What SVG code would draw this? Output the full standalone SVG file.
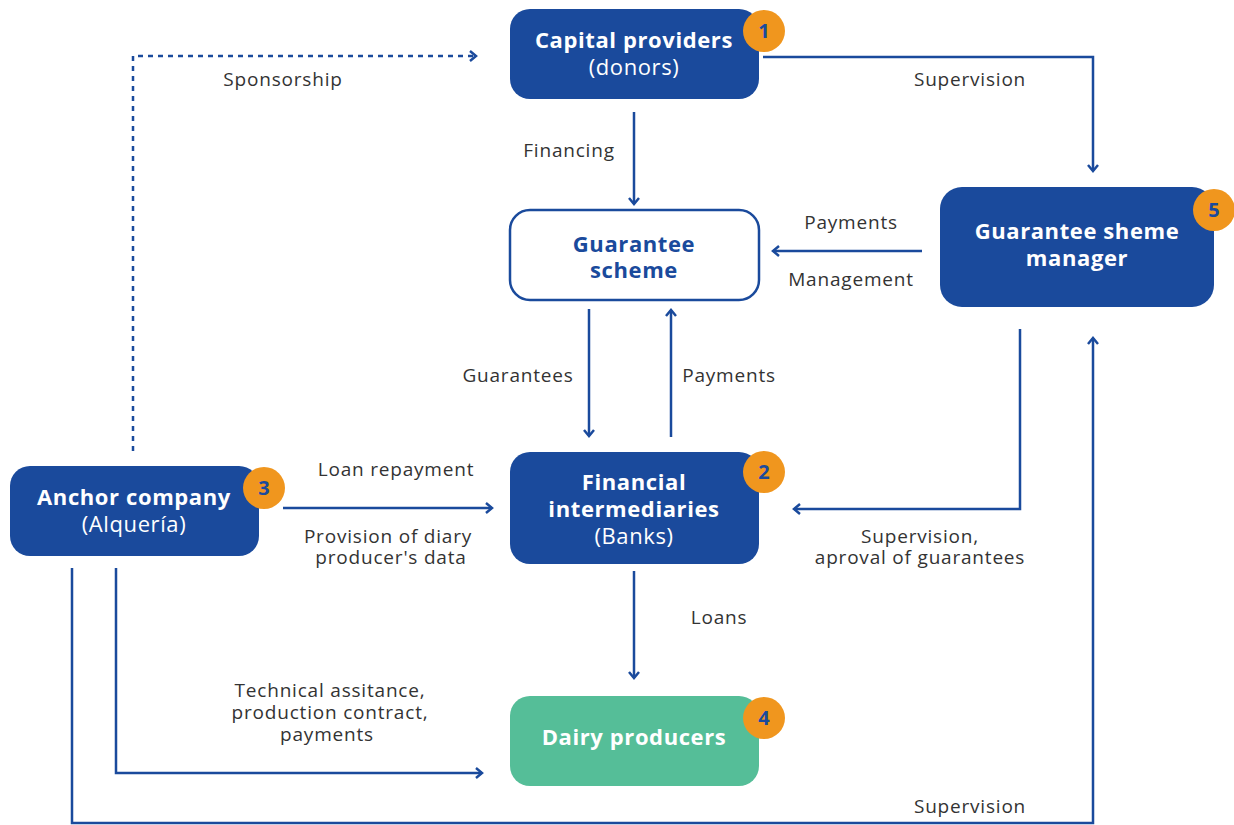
<svg xmlns="http://www.w3.org/2000/svg" width="1234" height="825" viewBox="0 0 1234 825">
<style>
.box{fill:#1A4A9C}
.wbox{fill:#fff;stroke:#1A4A9C;stroke-width:2.5}
.gbox{fill:#55BE98}
.t{font-family:"Open Sans","Noto Sans",sans-serif;font-size:22px;fill:#fff;text-anchor:middle;letter-spacing:0.6px}
.b{font-weight:bold}
.n{font-weight:normal}
.tb{fill:#1A4A9C}
.badge{fill:#F0961E}
.bt{font-family:"Open Sans","Noto Sans",sans-serif;font-size:20px;font-weight:bold;fill:#1A4A9C;text-anchor:middle}
.lbl{font-family:"Open Sans","Noto Sans",sans-serif;font-size:19px;fill:#333;text-anchor:middle;letter-spacing:0.8px}
.ln{fill:none;stroke:#1A4A9C;stroke-width:2.5}
.dash{stroke-dasharray:5 5}
</style>
<defs>
<marker id="ah" markerWidth="12" markerHeight="12" refX="9" refY="6" orient="auto" markerUnits="userSpaceOnUse">
<path d="M3,1 L9,6 L3,11" fill="none" stroke="#1A4A9C" stroke-width="2.5"/>
</marker>
</defs>
<rect width="1234" height="825" fill="#fff"/>
<g id="connectors">
<path class="ln dash" d="M133,451 V56 H476" marker-end="url(#ah)"/>
<path class="ln" d="M763,57 H1093 V171" marker-end="url(#ah)"/>
<path class="ln" d="M634,112 V204" marker-end="url(#ah)"/>
<path class="ln" d="M922,251 H773" marker-end="url(#ah)"/>
<path class="ln" d="M589,309 V436" marker-end="url(#ah)"/>
<path class="ln" d="M671,437 V310" marker-end="url(#ah)"/>
<path class="ln" d="M283,508 H492" marker-end="url(#ah)"/>
<path class="ln" d="M1020,329 V509 H794" marker-end="url(#ah)"/>
<path class="ln" d="M634,571 V678" marker-end="url(#ah)"/>
<path class="ln" d="M116,568 V773 H482" marker-end="url(#ah)"/>
<path class="ln" d="M72,568 V823 H1093 V338" marker-end="url(#ah)"/>
<text class="lbl" x="283" y="86">Sponsorship</text>
<text class="lbl" x="970" y="86">Supervision</text>
<text class="lbl" x="569" y="157">Financing</text>
<text class="lbl" x="851" y="229">Payments</text>
<text class="lbl" x="851" y="286">Management</text>
<text class="lbl" x="518" y="382">Guarantees</text>
<text class="lbl" x="729" y="382">Payments</text>
<text class="lbl" x="396" y="476">Loan repayment</text>
<text class="lbl" x="388" y="543">Provision of diary<tspan x="391" dy="21">producer's data</tspan></text>
<text class="lbl" x="920" y="543">Supervision,<tspan x="920" dy="21">aproval of guarantees</tspan></text>
<text class="lbl" x="719" y="624">Loans</text>
<text class="lbl" x="330" y="697">Technical assitance,<tspan x="330" dy="22">production contract,</tspan><tspan x="327" dy="22">payments</tspan></text>
<text class="lbl" x="970" y="813">Supervision</text>
</g>
<g id="capital-providers">
<rect class="box" x="510" y="9" width="249" height="90" rx="20"/>
<text class="t b" x="634" y="48">Capital providers<tspan class="n" x="634" dy="27">(donors)</tspan></text>
<circle class="badge" cx="764" cy="31" r="21"/>
<text class="bt" x="764" y="38">1</text>
</g>
<g id="guarantee-scheme">
<rect class="wbox" x="510" y="210" width="249" height="90" rx="20"/>
<text class="t b tb" x="634" y="252">Guarantee<tspan x="634" dy="26">scheme</tspan></text>
</g>
<g id="guarantee-scheme-manager">
<rect class="box" x="940" y="187" width="274" height="120" rx="22"/>
<text class="t b" x="1077" y="239">Guarantee sheme<tspan x="1077" dy="27">manager</tspan></text>
<circle class="badge" cx="1214" cy="210" r="21"/>
<text class="bt" x="1214" y="217">5</text>
</g>
<g id="anchor-company">
<rect class="box" x="10" y="466" width="249" height="90" rx="20"/>
<text class="t b" x="134" y="505">Anchor company<tspan class="n" x="134" dy="27">(Alquería)</tspan></text>
<circle class="badge" cx="264" cy="488" r="21"/>
<text class="bt" x="264" y="495">3</text>
</g>
<g id="financial-intermediaries">
<rect class="box" x="510" y="452" width="249" height="112" rx="20"/>
<text class="t b" x="634" y="490">Financial<tspan x="634" dy="27">intermediaries</tspan><tspan class="n" x="634" dy="27">(Banks)</tspan></text>
<circle class="badge" cx="764" cy="472" r="21"/>
<text class="bt" x="764" y="479">2</text>
</g>
<g id="dairy-producers">
<rect class="gbox" x="510" y="696" width="249" height="90" rx="20"/>
<text class="t b" x="634" y="745">Dairy producers</text>
<circle class="badge" cx="764" cy="718" r="21"/>
<text class="bt" x="764" y="725">4</text>
</g>
</svg>
